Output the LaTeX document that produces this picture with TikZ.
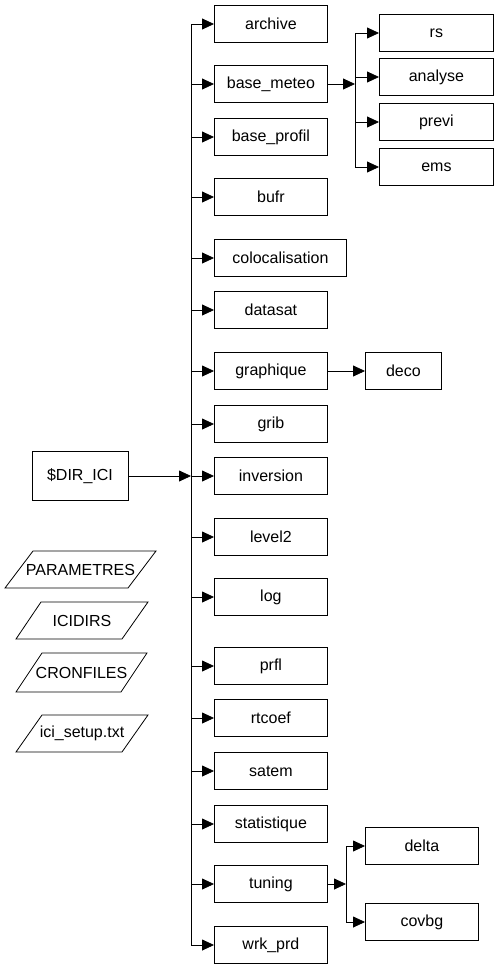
\documentclass[tikz,border=0pt]{standalone}
\usepackage{fontspec}
\setmainfont{Liberation Sans}
\usetikzlibrary{arrows.meta}
\begin{document}
\begin{tikzpicture}[x=1pt,y=-1pt,
  font=\fontsize{16}{19}\selectfont,
  line width=0.8pt,
  dbox/.style={draw,minimum width=113pt,minimum height=37pt,inner sep=0pt,anchor=west},
  arr/.style={-{Triangle[length=12pt,width=11pt]}},
  para/.style={draw,line width=0.8pt}]
\useasboundingbox (0,0) rectangle (498,969);
% first level
\node[dbox] (archive) at (214,24) {archive};
\node[dbox] (basemeteo) at (214,84) {base\_meteo};
\node[dbox] (baseprofil) at (214,137) {base\_profil};
\node[dbox] (bufr) at (214,197) {bufr};
\node[dbox,minimum width=132pt] (coloc) at (214,258) {colocalisation};
\node[dbox] (datasat) at (214,310) {datasat};
\node[dbox] (graphique) at (214,371) {graphique};
\node[dbox] (grib) at (214,424) {grib};
\node[dbox] (inversion) at (214,476) {inversion};
\node[dbox] (level2) at (214,537) {level2};
\node[dbox] (log) at (214,597) {log};
\node[dbox] (prfl) at (214,666) {prfl};
\node[dbox] (rtcoef) at (214,718) {rtcoef};
\node[dbox] (satem) at (214,771) {satem};
\node[dbox] (statistique) at (214,824) {statistique};
\node[dbox] (tuning) at (214,884) {tuning};
\node[dbox] (wrkprd) at (214,945) {wrk\_prd};
% second level
\node[dbox,minimum width=114pt] (rs) at (379,33) {rs};
\node[dbox,minimum width=114pt] (analyse) at (379,77) {analyse};
\node[dbox,minimum width=114pt] (previ) at (379,122) {previ};
\node[dbox,minimum width=114pt] (ems) at (379,167) {ems};
\node[dbox,minimum width=76pt] (deco) at (365,371) {deco};
\node[dbox] (delta) at (365,846) {delta};
\node[dbox] (covbg) at (365,922) {covbg};
% root
\node[draw,minimum width=96pt,minimum height=49pt,inner sep=0pt] (dir) at (80,476) {\$DIR\_ICI};
% trunk
\coordinate (tr) at (191,0);
\draw (archive.west -| tr) -- (wrkprd.west -| tr);
\foreach \n in {archive,basemeteo,baseprofil,bufr,coloc,datasat,graphique,grib,inversion,level2,log,prfl,rtcoef,satem,statistique,tuning,wrkprd}
  \draw[arr] (\n.west -| tr) -- (\n.west);
\draw[arr] (dir.east) -- (dir.east -| tr);
% base_meteo branch
\coordinate (bm) at (355,84);
\draw[arr] (basemeteo.east) -- (bm);
\draw (rs.west -| bm) -- (ems.west -| bm);
\foreach \n in {rs,analyse,previ,ems}
  \draw[arr] (\n.west -| bm) -- (\n.west);
% graphique
\draw[arr] (graphique.east) -- (deco.west);
% tuning branch
\coordinate (tv) at (346,884);
\draw[arr] (tuning.east) -- (tv);
\draw (delta.west -| tv) -- (covbg.west -| tv);
\foreach \n in {delta,covbg}
  \draw[arr] (\n.west -| tv) -- (\n.west);
% parallelograms
\draw[para] (5,588) -- (33,551) -- (156,551) -- (128,588) -- cycle;
\node (parametres) at (80.5,569.5) {PARAMETRES};
\draw[para] (16,639) -- (41,602) -- (148,602) -- (122,639) -- cycle;
\node (icidirs) at (82,620.5) {ICIDIRS};
\draw[para] (16,692) -- (42,653) -- (147,653) -- (121,692) -- cycle;
\node (cronfiles) at (81.5,672.5) {CRONFILES};
\draw[para] (16,752) -- (42,715) -- (148,715) -- (122,752) -- cycle;
\node (icisetup) at (82,733.5) {ici\_setup.txt};
\end{tikzpicture}
\end{document}
